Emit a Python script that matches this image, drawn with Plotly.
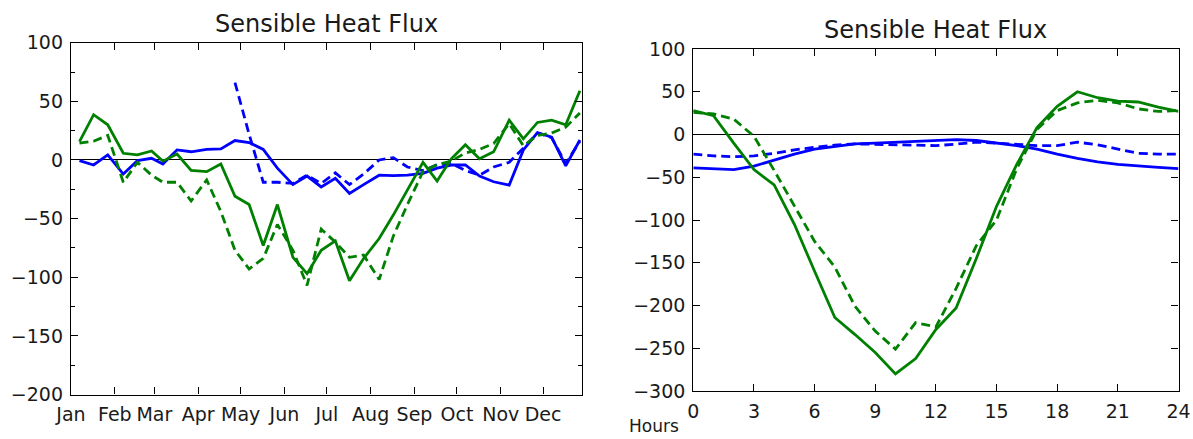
import plotly.graph_objects as go

# ---------------- Left panel: dekadal (10-day) means over the year ----------------
months = ["Jan", "Feb", "Mar", "Apr", "May", "Jun", "Jul", "Aug", "Sep", "Oct", "Nov", "Dec"]
dekad_days = [7, 17, 27]
dekad_dates = [f"2001-{m:02d}-{d:02d}" for m in range(1, 13) for d in dekad_days]

green_solid_yr = [15.7, 38.6, 30, 5.7, 4.3, 7.7, -1, 5, -9, -10, -3.4, -31,
                  -38, -73, -38, -83, -97, -77, -69, -103, -84, -67, -47, -26,
                  -2, -18, 1, 13, 1, 7, 34, 18, 32, 34, 30, 59]
green_dash_yr = [14.3, 16, 21, -19, -2, -13, -19, -19, -35, -17, -44, -77,
                 -93, -84, -55, -77, -107, -59, -70, -83, -81, -102, -65, -38,
                 -10, -4, -1, 6, 9, 14, 31, 12, 21, 23, 28, 40]
blue_solid_yr = [-0.6, -4.3, 4.3, -12, -0.6, 1.4, -3.4, 8.6, 7, 9, 9.4, 16.6,
                 14.9, 9, -7, -21, -13.7, -23, -15.7, -28.6, -21, -13, -13.4, -13,
                 -11.4, -7, -4.3, -4.3, -13.7, -18.6, -21.4, 8.6, 23.4, 19.4, -5, 17]
blue_dash_yr = [None, None, None, None, None, None, None, None, None, None, None, 66,
                22, -19, -19, -20, -13, -20, -11, -21, -12, 0, 2, -6,
                -9, -4, -3, -9, -13, -6, -2, 10, 23, 19, -3, 16]

# ---------------- Right panel: diurnal cycle ----------------
hours = list(range(0, 25))
green_solid_hr = [28, 22, -10, -41, -59, -105, -160, -214, -234, -255, -280, -262, -228,
                  -203, -145, -84, -35, 8, 33, 50, 43, 39, 38, 32, 27]
green_dash_hr = [26, 24, 18, -2, -42, -83, -125, -155, -201, -230, -251, -220, -225,
                 -180, -130, -100, -40, 6, 28, 37, 40, 37, 30, 27, 28]
blue_solid_hr = [-39, -40, -41, -37, -30, -23, -17, -14, -11, -10, -9, -7.5, -6.5,
                 -6, -7, -10, -13, -17, -23, -28, -32, -35, -37, -38.5, -40]
blue_dash_hr = [-23, -25, -26, -25, -22, -18, -15, -12.5, -11, -11.3, -12, -12, -13,
                -11.3, -9, -10, -11.3, -13, -13, -9, -12, -17, -22, -23, -23]

title_text = "Sensible Heat Flux"
xlabel_right = "Hours"

BLUE = "#0000ff"
GREEN = "#008000"
LW = 2.8
DASH = "9px,5px"
FONT = "DejaVu Sans"
TXT = "#1a1a1a"

fig = go.Figure()

def add(x, y, color, dash, xa, ya):
    fig.add_trace(go.Scatter(x=x, y=y, mode="lines", xaxis=xa, yaxis=ya,
                             line=dict(color=color, width=LW, dash=dash),
                             connectgaps=False, showlegend=False, hoverinfo="skip"))

add(dekad_dates, blue_solid_yr, BLUE, "solid", "x", "y")
add(dekad_dates, blue_dash_yr, BLUE, DASH, "x", "y")
add(dekad_dates, green_solid_yr, GREEN, "solid", "x", "y")
add(dekad_dates, green_dash_yr, GREEN, DASH, "x", "y")

add(hours, blue_solid_hr, BLUE, "solid", "x2", "y2")
add(hours, blue_dash_hr, BLUE, DASH, "x2", "y2")
add(hours, green_solid_hr, GREEN, "solid", "x2", "y2")
add(hours, green_dash_hr, GREEN, DASH, "x2", "y2")

W, H = 1193, 439
def fx(px):
    return px / W
def fy(py):
    return 1 - py / H

axis_common = dict(showline=True, linecolor="black", linewidth=1.3, mirror="ticks",
                   ticks="inside", tickcolor="black", tickwidth=1.2, ticklen=7,
                   showgrid=False, automargin=False,
                   tickfont=dict(family=FONT, size=19, color=TXT),
                   ticklabelstandoff=3)

fig.update_layout(
    template="none",
    width=W, height=H,
    margin=dict(l=0, r=0, t=0, b=0, pad=0),
    paper_bgcolor="white", plot_bgcolor="white",
    xaxis=dict(axis_common, domain=[fx(71), fx(582)], type="date",
               range=["2001-01-01", "2001-12-28 12:00"],
               tick0="2001-01-01", dtick="M1", tickformat="%b", zeroline=False),
    yaxis=dict(axis_common, domain=[fy(394.5), fy(42.7)], range=[-200, 100],
               tick0=0, dtick=50,
               minor=dict(dtick=25, ticks="inside", ticklen=4, tickcolor="black", showgrid=False),
               zeroline=True, zerolinecolor="black", zerolinewidth=1.2),
    xaxis2=dict(axis_common, domain=[fx(693.3), fx(1178.5)], range=[0, 24],
                tick0=0, dtick=3, anchor="y2", zeroline=False),
    yaxis2=dict(axis_common, domain=[fy(391), fy(49)], range=[-300, 100],
                tick0=0, dtick=50, anchor="x2",
                zeroline=True, zerolinecolor="black", zerolinewidth=1.2),
    annotations=[
        dict(text=title_text, xref="paper", yref="paper", x=(fx(71) + fx(582)) / 2,
             y=fy(42.7), xanchor="center", yanchor="bottom", yshift=3, showarrow=False,
             font=dict(family=FONT, size=24, color=TXT)),
        dict(text=title_text, xref="paper", yref="paper", x=(fx(693.3) + fx(1178.5)) / 2,
             y=fy(49), xanchor="center", yanchor="bottom", yshift=3, showarrow=False,
             font=dict(family=FONT, size=24, color=TXT)),
        dict(text=xlabel_right, xref="paper", yref="paper", x=fx(654), y=fy(437),
             xanchor="center", yanchor="bottom", showarrow=False, borderpad=0,
             font=dict(family=FONT, size=17, color=TXT)),
    ],
)

fig.write_html(
    "out.html",
    config={"displayModeBar": False},
    post_script="document.body.style.margin='0';document.body.style.overflow='hidden';",
)
